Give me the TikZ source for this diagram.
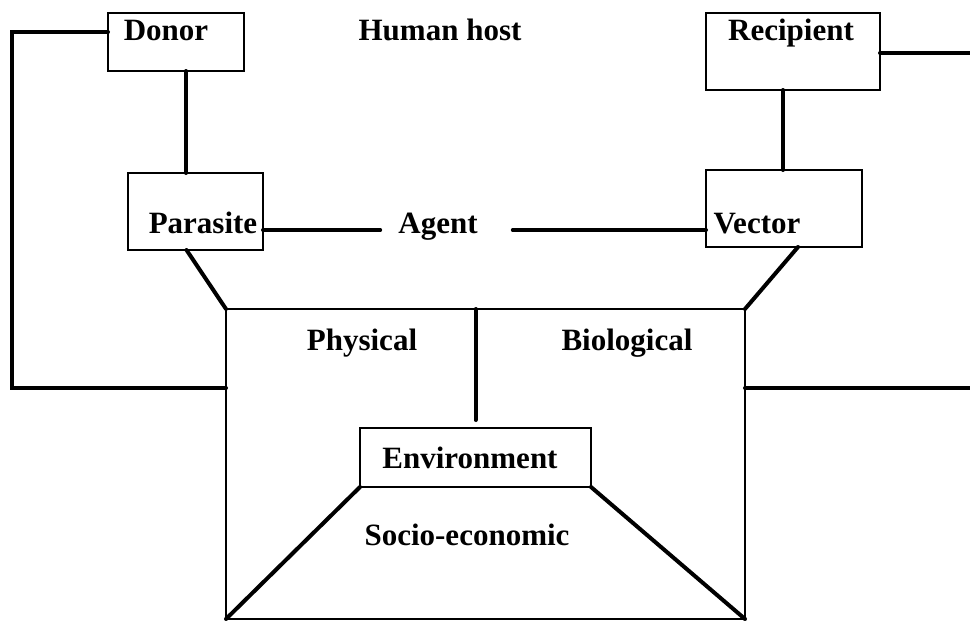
\documentclass[tikz,border=0pt]{standalone}
\usepackage{fontspec}
\setmainfont{Liberation Serif}
\begin{document}
\begin{tikzpicture}[x=1pt,y=-1pt,
  boxnode/.style 2 args={draw=black, line width=1.5pt, rectangle, inner sep=0pt, outer sep=0pt, minimum width=#1, minimum height=#2},
  lbl/.style={inner sep=0pt, anchor=base, font=\fontsize{31}{31}\selectfont\bfseries},
  conn/.style={draw=black, line width=4pt, line cap=round}]
\useasboundingbox (0,0) rectangle (970,621);
% boxes
\node[boxnode={136pt}{58pt}] (donor) at (176,42) {};
\node[boxnode={174pt}{77pt}] (recipient) at (793,51.5) {};
\node[boxnode={135pt}{77pt}] (parasite) at (195.5,211.5) {};
\node[boxnode={156pt}{77pt}] (vector) at (784,208.5) {};
\node[boxnode={519pt}{310pt}] (big) at (485.5,464) {};
\node[boxnode={231pt}{59pt}] (env) at (475.5,457.5) {};
% labels
\node[lbl] (dtext) at (166,40.5) {Donor};
\node[lbl] (htext) at (440,40.5) {Human host};
\node[lbl] (rtext) at (791,40) {Recipient};
\node[lbl] (ptext) at (203,233) {Parasite};
\node[lbl] (agent) at (438,233) {Agent};
\node[lbl] (vtext) at (757,233) {Vector};
\node[lbl] (phys) at (362,350) {Physical};
\node[lbl] (bio) at (627,350) {Biological};
\node[lbl] (etext) at (470,468) {Environment};
\node[lbl] (stext) at (467,545) {Socio-economic};
% free ends
\coordinate (L) at (12,388);
\coordinate (R1) at (970,53);
\coordinate (R2) at (970,388);
\coordinate (ay) at (0,230);
\coordinate (dy) at (0,32);
% connectors
\draw[conn] (donor.west |- dy) -| (L) -- (L -| big.west);
\draw[conn] (recipient.east |- R1) -- (R1);
\draw[conn] (big.east |- R2) -- (R2);
\draw[conn] ([xshift=10pt]donor.south) -- ([xshift=10pt]donor.south |- parasite.north);
\draw[conn] ([xshift=-10pt]recipient.south) -- ([xshift=-10pt]recipient.south |- vector.north);
\draw[conn] (parasite.east |- ay) -- ([xshift=-18pt]agent.west |- ay);
\draw[conn] ([xshift=35pt]agent.east |- ay) -- (vector.west |- ay);
\draw[conn] ([xshift=-9pt]parasite.south) -- (big.north west);
\draw[conn] ([xshift=14pt]vector.south) -- (big.north east);
\draw[conn] (env.north |- big.north) -- ([yshift=8pt]env.north);
\draw[conn] (env.south west) -- (big.south west);
\draw[conn] (env.south east) -- (big.south east);
\end{tikzpicture}
\end{document}
